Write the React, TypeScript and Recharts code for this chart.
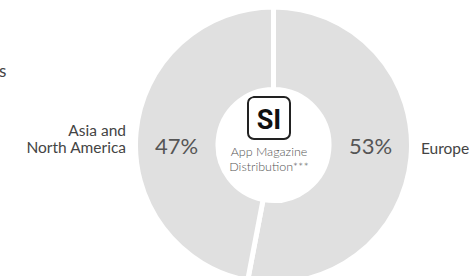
import React from "react";
import { PieChart, Pie, Cell } from "recharts";

const regions = ["Europe", "Asia and\nNorth America"];
const shares = [53, 47];
const centerLines = ["App Magazine", "Distribution***"];
const logoText = "SI";

const data = regions.map((name, i) => ({ name, value: shares[i] }));

const CX = 268.5;
const CY = 140;
const FONT = "Lato, 'Open Sans', sans-serif";

const renderLabel = (props: any) => {
  const { cx, cy, midAngle, payload, percent } = props;
  const right = Math.cos((-midAngle * Math.PI) / 180) > 0;
  const sign = right ? 1 : -1;
  const px = cx + sign * 97;
  const lx = cx + sign * 147.5;
  const lines: string[] = String(payload.name).split("\n");
  const lh = 17;
  const y0 = lines.length > 1 ? cy - 9 : cy + 9;
  return (
    <g>
      <text x={px} y={cy + 9} textAnchor="middle" fontSize={22} fill="#555" fontFamily={FONT}>
        {Math.round(percent * 100)}%
      </text>
      <text x={lx} textAnchor={right ? "start" : "end"} fontSize={15.5} fill="#444" fontFamily={FONT}>
        {lines.map((l, i) => (
          <tspan key={i} x={lx} y={y0 + i * lh}>
            {l}
          </tspan>
        ))}
      </text>
    </g>
  );
};

export default function App() {
  return (
    <div style={{ position: "absolute", left: 0, top: 0, width: 475, height: 276, background: "#fff" }}>
      <PieChart width={475} height={276}>
        <Pie
          data={data}
          dataKey="value"
          nameKey="name"
          cx={CX}
          cy={CY}
          startAngle={90}
          endAngle={-270}
          innerRadius={55.5}
          outerRadius={138}
          stroke="#fff"
          strokeWidth={5}
          label={renderLabel}
          labelLine={false}
          isAnimationActive={false}
        >
          {data.map((d, i) => (
            <Cell key={i} fill="#e0e0e0" />
          ))}
        </Pie>
        <text x={-1} y={77} fontSize={17} fill="#444" fontFamily={FONT}>s</text>
        <rect x={248} y={97} width={42} height={42} rx={6} ry={6} fill="#fff" stroke="#222" strokeWidth={2} />
        <text x={269} y={129} textAnchor="middle" fontSize={27} fontWeight={700} fill="#111" fontFamily="Roboto, Arial, sans-serif">
          {logoText}
        </text>
        {centerLines.map((l, i) => (
          <text key={i} x={269} y={156 + i * 15} textAnchor="middle" fontSize={12.5} fontWeight={300} fill="#555" fontFamily={FONT}>
            {l}
          </text>
        ))}
      </PieChart>
    </div>
  );
}
